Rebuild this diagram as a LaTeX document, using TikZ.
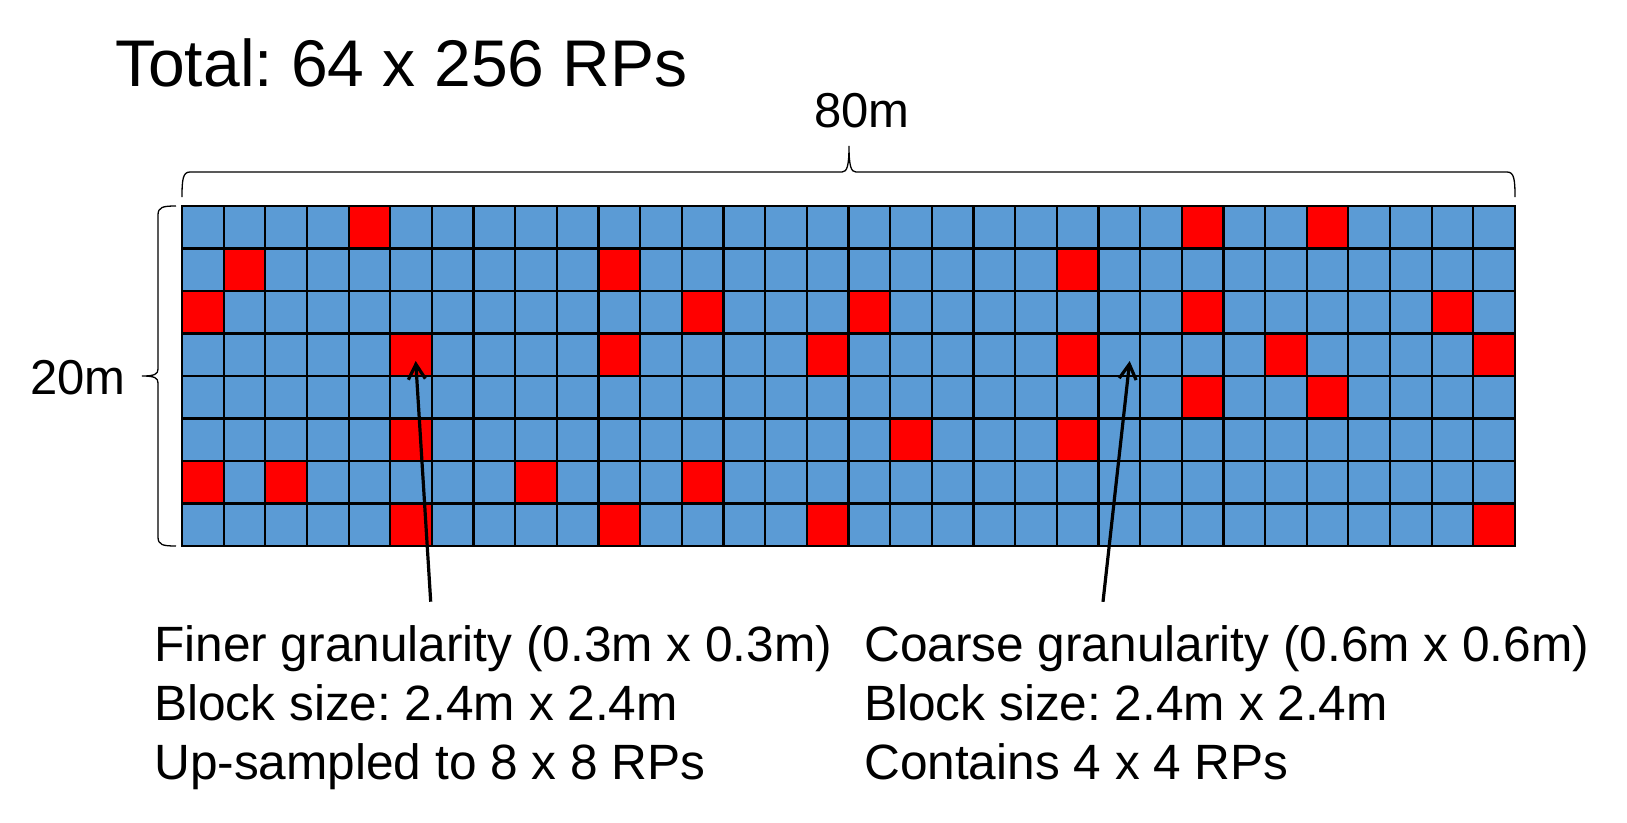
\documentclass[tikz,border=0pt]{standalone}
\usepackage{fontspec}
\setmainfont{Liberation Sans}
\usetikzlibrary{arrows.meta}
\definecolor{rpblue}{HTML}{5B9BD5}
\definecolor{rpred}{HTML}{FF0000}
\begin{document}
\frenchspacing
\begin{tikzpicture}[x=1pt,y=-1pt,
  cell/.style={draw=black, line width=2.2pt, minimum width=41.656pt, minimum height=42.5pt, inner sep=0pt, outer sep=0pt},
  brace/.style={draw=black, line width=1.3pt},
  pointer/.style={draw=black, line width=3.2pt, -{Straight Barb[length=15pt,width=17pt]}},
  lbl/.style={inner sep=0pt, anchor=base west, font=\fontsize{49.6pt}{59pt}\selectfont},
  dimlbl/.style={inner sep=0pt, anchor=base, font=\fontsize{49pt}{59pt}\selectfont},
  titlelbl/.style={inner sep=0pt, anchor=base west, font=\fontsize{66pt}{78pt}\selectfont}
]
\useasboundingbox (0,0) rectangle (1627,822);
% red cells (row/column)
\foreach \rw/\cl in {0/4,0/24,0/27,
  1/1,1/10,1/21,
  2/0,2/12,2/16,2/24,2/30,
  3/5,3/10,3/15,3/21,3/26,3/31,
  4/24,4/27,
  5/5,5/17,5/21,
  6/0,6/2,6/8,6/12,
  7/5,7/10,7/15,7/31}{\expandafter\gdef\csname red@\rw @\cl\endcsname{}}
% grid
\foreach \rw in {0,...,7}{
  \foreach \cl in {0,...,31}{
    \ifcsname red@\rw @\cl\endcsname\def\cellcol{rpred}\else\def\cellcol{rpblue}\fi
    \node[cell, fill=\cellcol] (c-\rw-\cl) at ({182+(\cl+0.5)*41.656},{206+(\rw+0.5)*42.5}) {};
  }
}
% top brace
\draw[brace] (182,197) .. controls (182,179) and (183,172) .. (190,172)
  -- (842,172) .. controls (847,172) and (849,166) .. (849,146)
  .. controls (849,166) and (851,172) .. (856,172)
  -- (1507,172) .. controls (1514,172) and (1515,179) .. (1515,197);
% left brace
\draw[brace] (176,206) .. controls (163,206) and (158,207) .. (158,215)
  -- (158,369) .. controls (158,374) and (155,376) .. (142,376)
  .. controls (155,376) and (158,378) .. (158,383)
  -- (158,537) .. controls (158,545) and (163,546) .. (176,546);
% texts
\node[titlelbl] (title) at (115,86) {Total: 64 x 256 RPs};
\node[dimlbl] (w80) at (862,127) {80m};
\node[dimlbl] (h20) at (78,394) {20m};
\node[lbl] (f1) at (154,661) {Finer granularity (0.3m x 0.3m)};
\node[lbl] (f2) at (154,720) {Block size: 2.4m x 2.4m};
\node[lbl] (f3) at (154,779) {Up-sampled to 8 x 8 RPs};
\node[lbl] (g1) at (864,661) {Coarse granularity (0.6m x 0.6m)};
\node[lbl] (g2) at (864,720) {Block size: 2.4m x 2.4m};
\node[lbl] (g3) at (864,779) {Contains 4 x 4 RPs};
% pointers
\coordinate (ftail) at (430.7,601.7);
\coordinate (fhead) at (415.7,361);
\coordinate (gtail) at (1103,601.8);
\coordinate (ghead) at (1129.7,361);
\draw[pointer] (ftail) -- (fhead);
\draw[pointer] (gtail) -- (ghead);
\end{tikzpicture}
\end{document}
